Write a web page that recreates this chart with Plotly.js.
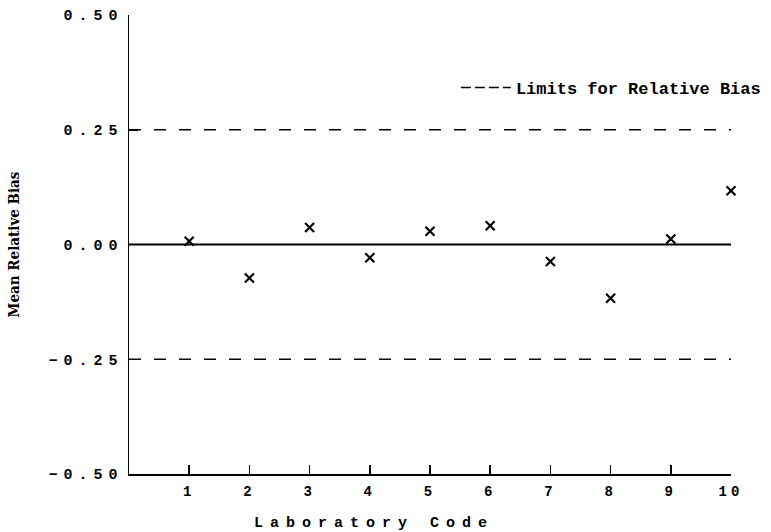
<!DOCTYPE html>
<html>
<head>
<meta charset="utf-8">
<script src="https://cdn.plot.ly/plotly-3.0.1.min.js"></script>
<style>
  html, body { margin: 0; padding: 0; background: #fff; }
  #chart { width: 771px; height: 532px; }
  .xtitle { letter-spacing: 7px; transform: translateX(-56px); }
  .ytick text { letter-spacing: 6px; }
  .xtick text { letter-spacing: 4px; }
</style>
</head>
<body>
<div id="chart"></div>
<script>
// ---- data ----
const labCodes = [1, 2, 3, 4, 5, 6, 7, 8, 9, 10];
const meanRelativeBias = [0.007, -0.073, 0.037, -0.029, 0.029, 0.041, -0.037, -0.117, 0.012, 0.117];
const limitX = [0, 10];
const upperLimit = [0.25, 0.25];
const lowerLimit = [-0.25, -0.25];
const zeroLine = [0, 0];
const yTickVals = [-0.5, -0.25, 0, 0.25, 0.5];
const yTickText = ['\u22120.50', '\u22120.25', '0.00', '0.25', '0.50'];
const xTickVals = labCodes;
const xTickText = ['1', '2', '3', '4', '5', '6', '7', '8', '9', '10'];
const legendLabel = 'Limits for Relative Bias';

const mono = 'Liberation Mono, DejaVu Sans Mono, monospace';

const traces = [
  {
    x: limitX, y: zeroLine, mode: 'lines', showlegend: false, hoverinfo: 'skip',
    line: { color: '#000', width: 2 }
  },
  {
    x: limitX, y: upperLimit, mode: 'lines', name: legendLabel, showlegend: false,
    legendgroup: 'lim', line: { color: '#000', width: 1.5, dash: '12px,13px' }
  },
  {
    x: limitX, y: lowerLimit, mode: 'lines', name: legendLabel, showlegend: false,
    legendgroup: 'lim', line: { color: '#000', width: 1.5, dash: '12px,13px' }
  },
  {
    // legend entry only (sample drawn as "---")
    x: [null], y: [null], mode: 'lines', name: legendLabel, showlegend: true,
    legendgroup: 'lim', line: { color: '#000', width: 1.5, dash: '10px,4px' }
  },
  {
    x: labCodes, y: meanRelativeBias, mode: 'markers', showlegend: false, cliponaxis: false,
    marker: { symbol: 'x-thin-open', size: 9, color: '#000', line: { color: '#000', width: 2.2 } }
  }
];

const layout = {
  width: 771, height: 532,
  margin: { l: 129, r: 40, t: 15, b: 58, autoexpand: false },
  paper_bgcolor: '#fff', plot_bgcolor: '#fff',
  showlegend: true,
  legend: {
    x: 0.543, y: 0.841, xanchor: 'left', yanchor: 'middle',
    bgcolor: 'rgba(0,0,0,0)', borderwidth: 0,
    font: { family: mono, size: 17, color: '#000', weight: 'bold' },
    itemwidth: 50
  },
  xaxis: {
    range: [0, 10], showgrid: false, zeroline: false,
    showline: true, linecolor: '#000', linewidth: 1.5,
    ticks: 'inside', ticklen: 9, tickwidth: 1.5, tickcolor: '#000',
    ticklabelstandoff: 4,
    tickvals: xTickVals, ticktext: xTickText,
    tickfont: { family: mono, size: 14, color: '#000', weight: 'bold' },
    title: { text: 'Laboratory Code', standoff: 20,
      font: { family: mono, size: 15, color: '#000', weight: 'bold' } }
  },
  yaxis: {
    range: [-0.5, 0.5], showgrid: false, zeroline: false,
    showline: true, linecolor: '#000', linewidth: 1.5,
    ticks: 'inside', ticklen: 9, tickwidth: 1.5, tickcolor: '#000',
    ticklabelstandoff: 1,
    tickvals: yTickVals, ticktext: yTickText,
    tickfont: { family: mono, size: 15, color: '#000', weight: 'bold' },
    title: { text: 'Mean Relative Bias', standoff: 25,
      font: { family: 'DejaVu Serif Condensed, Liberation Serif, serif', size: 15, color: '#000', weight: 'bold' } }
  }
};

Plotly.newPlot('chart', traces, layout, { displayModeBar: false, staticPlot: true });
</script>
</body>
</html>
